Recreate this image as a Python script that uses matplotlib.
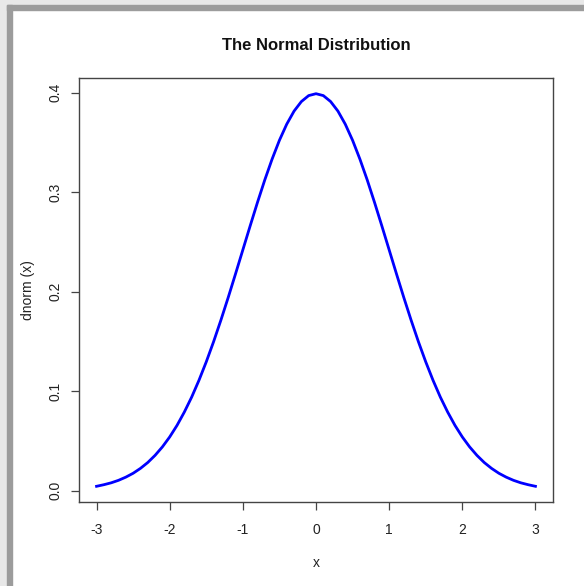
import matplotlib
matplotlib.use("Agg")
import matplotlib.pyplot as plt
from matplotlib.patches import Rectangle

plt.rcParams['font.family'] = ['Liberation Sans', 'DejaVu Sans']

# Standard normal density sampled on a 0.1 grid from -3 to 3
x_vals = [round(-3 + 0.1 * i, 1) for i in range(61)]
half_density = [0.3989, 0.3970, 0.3910, 0.3814, 0.3683, 0.3521, 0.3332, 0.3123,
                0.2897, 0.2661, 0.2420, 0.2179, 0.1942, 0.1714, 0.1497, 0.1295,
                0.1109, 0.0940, 0.0790, 0.0656, 0.0540, 0.0440, 0.0355, 0.0283,
                0.0224, 0.0175, 0.0136, 0.0104, 0.0079, 0.0060, 0.0044]
density = half_density[:0:-1] + half_density

x_ticks = [-3, -2, -1, 0, 1, 2, 3]
x_tick_labels = ["-3", "-2", "-1", "0", "1", "2", "3"]
y_ticks = [0.0, 0.1, 0.2, 0.3, 0.4]
y_tick_labels = ["0.0", "0.1", "0.2", "0.3", "0.4"]

W, H = 584, 586
fig = plt.figure(figsize=(W / 100, H / 100), dpi=100)
fig.patch.set_facecolor("white")

# window frame along top and left edges
def px_rect(x0, y0, w, h, color):
    fig.patches.append(Rectangle((x0 / W, 1 - (y0 + h) / H), w / W, h / H,
                                 transform=fig.transFigure, color=color, zorder=-10))

px_rect(0, 0, W, 5, "#e8e8e8")
px_rect(0, 0, 7, H, "#e8e8e8")
px_rect(7, 5, W - 7, 5, "#9c9c9c")
px_rect(7, 5, 5, H - 5, "#9c9c9c")

left, right, top, bottom = 79, 553, 78, 502
ax = fig.add_axes([left / W, 1 - bottom / H, (right - left) / W, (bottom - top) / H])

ax.plot(x_vals, density, color="#0000ff", linewidth=2.0, solid_joinstyle="round")

ax.set_xlim(-3.24, 3.24)
ymin, ymax = min(density), max(density)
pad = (ymax - ymin) * 0.04
ax.set_ylim(ymin - pad, ymax + pad)

ax.set_xticks(x_ticks)
ax.set_xticklabels(x_tick_labels)
ax.set_yticks(y_ticks)
ax.set_yticklabels(y_tick_labels, rotation=90, va="center")

for s in ax.spines.values():
    s.set_color("#444444")
    s.set_linewidth(1.0)

ax.tick_params(axis="both", direction="out", length=6.0, width=0.9,
               color="#444444", labelsize=10, labelcolor="#222222")
ax.tick_params(axis="x", pad=9)
ax.tick_params(axis="y", pad=6)

# title and axis labels placed in figure pixel coordinates
fig.text(316 / W, 1 - 45 / H, "The Normal Distribution", fontsize=12,
         fontweight="bold", color="#111111", ha="center", va="center")
fig.text(316 / W, 1 - 563 / H, "x", fontsize=10, color="#222222",
         ha="center", va="center")
fig.text(28 / W, 1 - 290 / H, "dnorm (x)", fontsize=10, color="#222222",
         ha="center", va="center", rotation=90)

fig.savefig("out.png", dpi=100)
